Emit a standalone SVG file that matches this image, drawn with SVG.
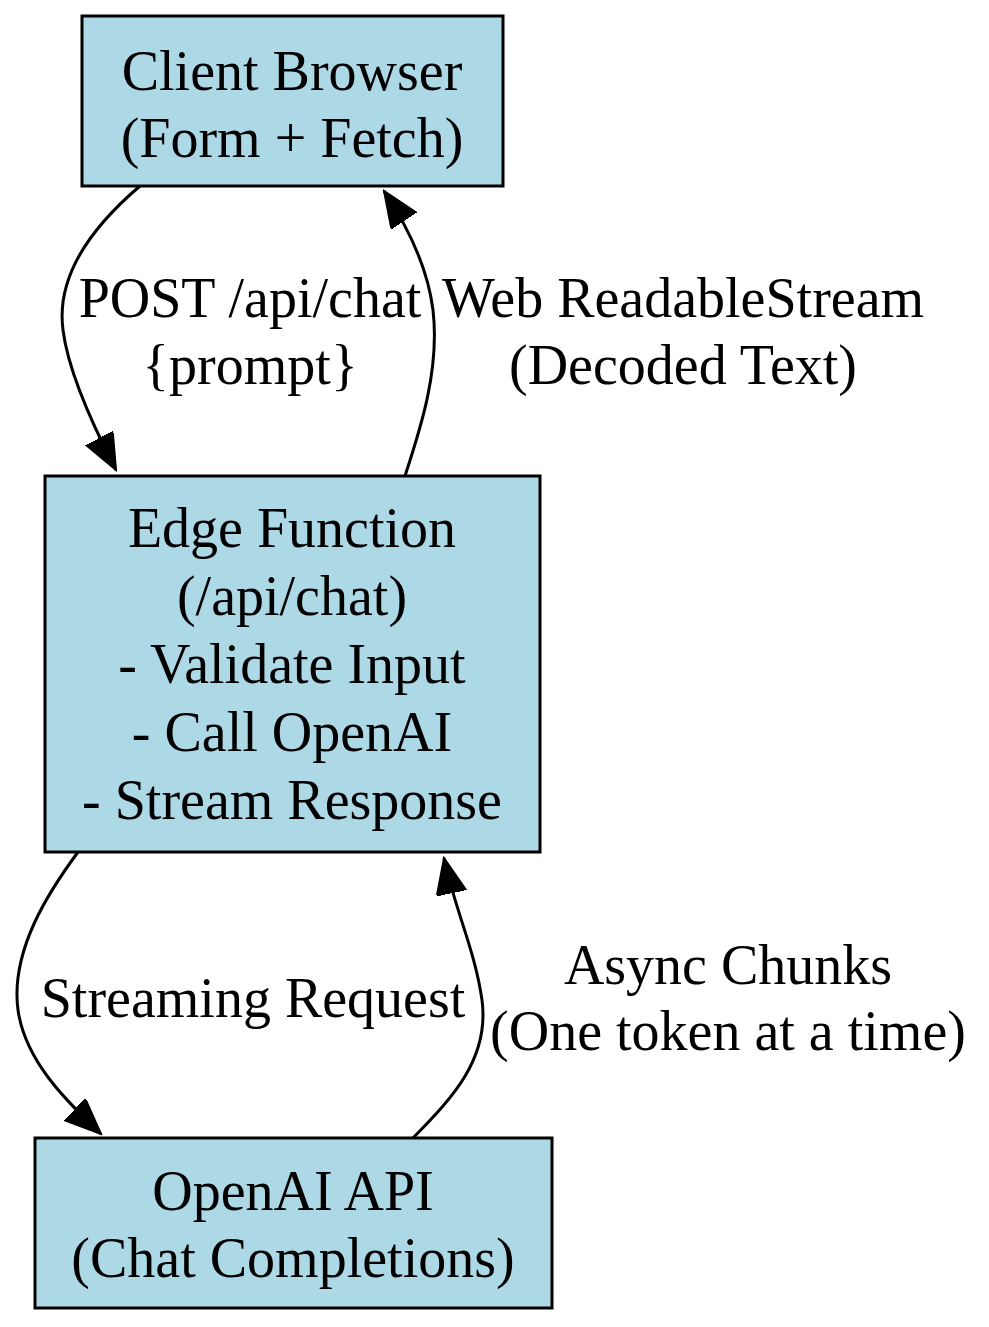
<svg xmlns="http://www.w3.org/2000/svg" width="989" height="1327" viewBox="0 0 989 1327">
<style>
.n{fill:#add8e6;stroke:#000;stroke-width:3}
.t{font-family:"Liberation Serif",serif;font-size:56px;text-anchor:middle;fill:#000}
.e{fill:none;stroke:#000;stroke-width:3}
</style>
<defs>
<marker id="a" markerUnits="userSpaceOnUse" markerWidth="38" markerHeight="32" refX="36" refY="15" orient="auto"><path d="M0,0 L36,15 L0,30 Z" fill="#000" stroke="#000" stroke-width="2"/></marker>
</defs>
<rect width="989" height="1327" fill="#fff"/>
<g id="client"><rect class="n" x="82" y="16" width="421" height="170"/>
<text class="t" x="292" y="90">Client Browser</text><text class="t" x="292" y="157">(Form + Fetch)</text></g>
<g id="edge"><rect class="n" x="45" y="476" width="495" height="376"/>
<text class="t" x="292" y="547">Edge Function</text><text class="t" x="292" y="615">(/api/chat)</text><text class="t" x="292" y="683">- Validate Input</text><text class="t" x="292" y="751">- Call OpenAI</text><text class="t" x="292" y="819">- Stream Response</text></g>
<g id="openai"><rect class="n" x="35" y="1138" width="517" height="170"/>
<text class="t" x="293" y="1210">OpenAI API</text><text class="t" x="293" y="1277">(Chat Completions)</text></g>
<g id="connectors">
<path class="e" marker-end="url(#a)" d="M140,186 C100,220 55,270 63,330 C68,370 90,420 116,470"/>
<path class="e" marker-end="url(#a)" d="M405,476 C420,430 440,370 433,310 C428,270 410,230 384,191"/>
<path class="e" marker-end="url(#a)" d="M78,852 C50,890 10,950 18,1010 C25,1060 65,1100 101,1134"/>
<path class="e" marker-end="url(#a)" d="M413,1138 C450,1100 490,1060 482,1000 C475,950 455,910 444,858"/>
<text class="t" x="250" y="317">POST /api/chat</text><text class="t" x="250" y="384">{prompt}</text>
<text class="t" x="683" y="317">Web ReadableStream</text><text class="t" x="683" y="384">(Decoded Text)</text>
<text class="t" x="253" y="1017">Streaming Request</text>
<text class="t" x="728" y="984">Async Chunks</text><text class="t" x="728" y="1050">(One token at a time)</text>
</g>
</svg>
